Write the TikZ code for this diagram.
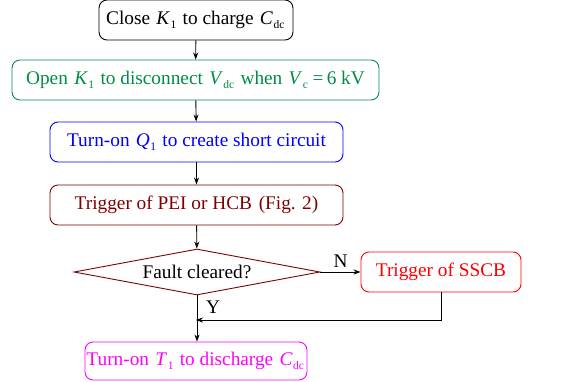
\documentclass[tikz,border=0pt]{standalone}
\usepackage{fontspec}
\setmainfont{Liberation Serif}
\usetikzlibrary{shapes.geometric,arrows.meta}
\definecolor{cgreen}{RGB}{0,140,70}
\definecolor{cdred}{RGB}{128,0,0}
\definecolor{cmag}{RGB}{255,0,255}
\newcommand{\vsub}[2]{\kern1.5pt\relax\textit{#1}\kern0.5pt\relax\raisebox{-0.4ex}{\fontsize{11.5}{12}\selectfont #2}\kern1.5pt\relax}
\tikzset{
  box/.style={draw, rounded corners=8pt, line width=0.9pt, minimum height=40pt, inner sep=0pt, font=\fontsize{19.3}{22}\selectfont},
  arr/.style={-{Stealth[length=7pt,width=5pt]}, line width=0.9pt},
}
\begin{document}
\begin{tikzpicture}[x=1pt,y=-1pt]
\useasboundingbox (0,0) rectangle (581,381);
\node[box, minimum width=194pt] (b1) at (196,20) {Close \vsub{K}{1} to charge \vsub{C}{dc}};
\node[box, draw=cgreen, text=cgreen, minimum width=367pt] (b2) at (195.5,80) {Open \vsub{K}{1} to disconnect \vsub{V}{dc} when \vsub{V}{c}\,=\,6 kV};
\node[box, draw=blue, text=blue, minimum width=293pt] (b3) at (196.5,142) {Turn-on \vsub{Q}{1} to create short circuit};
\node[box, draw=cdred, text=cdred, minimum width=293pt] (b4) at (196.5,205) {Trigger of PEI or HCB\hspace{0.35em}(Fig. 2)\hspace{0.3em}};
\node[diamond, draw=cdred, line width=0.9pt, aspect=5.35, inner sep=0pt, minimum width=246pt, minimum height=46pt, font=\fontsize{19.3}{22}\selectfont] (d) at (197,272) {Fault cleared?};
\node[box, draw=red, text=red, minimum width=160pt] (s) at (441,272) {Trigger of SSCB};
\node[box, draw=cmag, text=cmag, minimum width=222pt, minimum height=38pt] (f) at (196,361) {Turn-on \vsub{T}{1} to discharge \vsub{C}{dc}};
\coordinate (m) at (196,320);
\draw[arr] (b1) -- (b2);
\draw[arr] (b2) -- (b3);
\draw[arr] (b3) -- (b4);
\draw[arr] (b4) -- (d);
\draw[arr] (d.south) -- (f.north -| d.south);
\draw[arr] (d.east) -- node[above, font=\fontsize{19.3}{22}\selectfont, yshift=1pt] {N} (s.west);
\draw[arr] (s.south) |- (m);
\node[font=\fontsize{19.3}{22}\selectfont] (y) at (213,307) {Y};
\end{tikzpicture}
\end{document}
